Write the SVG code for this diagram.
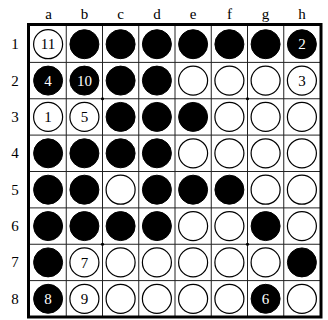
<svg xmlns="http://www.w3.org/2000/svg" width="328" height="320" viewBox="0 0 328 320">
<style>
.lbl{font-family:"Liberation Serif","Times New Roman",serif;font-size:15px;fill:#000;text-anchor:middle}
.num{font-family:"Liberation Serif","Times New Roman",serif;font-size:15px;text-anchor:middle}
.b{fill:#000;stroke:#000;stroke-width:1}
.w{fill:#fff;stroke:#000;stroke-width:1.2}
.bt{fill:#fff}
.wt{fill:#000}
.grid line{stroke:#222;stroke-width:1}
</style>
<rect width="328" height="320" fill="#fff"/>
<g id="labels">
<text class="lbl" x="48.6" y="18.5">a</text>
<text class="lbl" x="84.4" y="18.5">b</text>
<text class="lbl" x="120.6" y="18.5">c</text>
<text class="lbl" x="156.9" y="18.5">d</text>
<text class="lbl" x="193.1" y="18.5">e</text>
<text class="lbl" x="229.4" y="18.5">f</text>
<text class="lbl" x="265.6" y="18.5">g</text>
<text class="lbl" x="301.9" y="18.5">h</text>
<text class="lbl" x="15" y="49.2">1</text>
<text class="lbl" x="15" y="85.6">2</text>
<text class="lbl" x="15" y="122">3</text>
<text class="lbl" x="15" y="158.3">4</text>
<text class="lbl" x="15" y="194.7">5</text>
<text class="lbl" x="15" y="231.1">6</text>
<text class="lbl" x="15" y="267.4">7</text>
<text class="lbl" x="15" y="303.8">8</text>
</g>
<g id="board" class="grid">
<line x1="66.25" y1="24.5" x2="66.25" y2="317"/>
<line x1="102.5" y1="24.5" x2="102.5" y2="317"/>
<line x1="138.75" y1="24.5" x2="138.75" y2="317"/>
<line x1="175" y1="24.5" x2="175" y2="317"/>
<line x1="211.25" y1="24.5" x2="211.25" y2="317"/>
<line x1="247.5" y1="24.5" x2="247.5" y2="317"/>
<line x1="283.75" y1="24.5" x2="283.75" y2="317"/>
<line x1="28.5" y1="62.4" x2="321" y2="62.4"/>
<line x1="28.5" y1="98.75" x2="321" y2="98.75"/>
<line x1="28.5" y1="135.1" x2="321" y2="135.1"/>
<line x1="28.5" y1="171.5" x2="321" y2="171.5"/>
<line x1="28.5" y1="207.9" x2="321" y2="207.9"/>
<line x1="28.5" y1="244.25" x2="321" y2="244.25"/>
<line x1="28.5" y1="280.6" x2="321" y2="280.6"/>
<rect x="28.5" y="24.5" width="292.5" height="292.5" fill="none" stroke="#000" stroke-width="3"/>
<circle cx="102.5" cy="98.75" r="1.6" fill="#000"/>
<circle cx="247.5" cy="98.75" r="1.6" fill="#000"/>
<circle cx="102.5" cy="244.25" r="1.6" fill="#000"/>
<circle cx="247.5" cy="244.25" r="1.6" fill="#000"/>
</g>
<g id="discs">
<g id="a1"><circle class="w" cx="48.1" cy="44.2" r="14.5"/><text class="num wt" x="48.1" y="49.3">11</text></g>
<g id="b1"><circle class="b" cx="84.4" cy="44.2" r="14.5"/></g>
<g id="c1"><circle class="b" cx="120.6" cy="44.2" r="14.5"/></g>
<g id="d1"><circle class="b" cx="156.9" cy="44.2" r="14.5"/></g>
<g id="e1"><circle class="b" cx="193.1" cy="44.2" r="14.5"/></g>
<g id="f1"><circle class="b" cx="229.4" cy="44.2" r="14.5"/></g>
<g id="g1"><circle class="b" cx="265.6" cy="44.2" r="14.5"/></g>
<g id="h1"><circle class="b" cx="301.9" cy="44.2" r="14.5"/><text class="num bt" x="301.9" y="49.3">2</text></g>

<g id="a2"><circle class="b" cx="48.1" cy="80.6" r="14.5"/><text class="num bt" x="48.1" y="85.7">4</text></g>
<g id="b2"><circle class="b" cx="84.4" cy="80.6" r="14.5"/><text class="num bt" x="84.4" y="85.7">10</text></g>
<g id="c2"><circle class="b" cx="120.6" cy="80.6" r="14.5"/></g>
<g id="d2"><circle class="b" cx="156.9" cy="80.6" r="14.5"/></g>
<g id="e2"><circle class="w" cx="193.1" cy="80.6" r="14.5"/></g>
<g id="f2"><circle class="w" cx="229.4" cy="80.6" r="14.5"/></g>
<g id="g2"><circle class="w" cx="265.6" cy="80.6" r="14.5"/></g>
<g id="h2"><circle class="w" cx="301.9" cy="80.6" r="14.5"/><text class="num wt" x="301.9" y="85.7">3</text></g>

<g id="a3"><circle class="w" cx="48.1" cy="116.9" r="14.5"/><text class="num wt" x="48.1" y="122">1</text></g>
<g id="b3"><circle class="w" cx="84.4" cy="116.9" r="14.5"/><text class="num wt" x="84.4" y="122">5</text></g>
<g id="c3"><circle class="b" cx="120.6" cy="116.9" r="14.5"/></g>
<g id="d3"><circle class="b" cx="156.9" cy="116.9" r="14.5"/></g>
<g id="e3"><circle class="b" cx="193.1" cy="116.9" r="14.5"/></g>
<g id="f3"><circle class="w" cx="229.4" cy="116.9" r="14.5"/></g>
<g id="g3"><circle class="w" cx="265.6" cy="116.9" r="14.5"/></g>
<g id="h3"><circle class="w" cx="301.9" cy="116.9" r="14.5"/></g>

<g id="a4"><circle class="b" cx="48.1" cy="153.3" r="14.5"/></g>
<g id="b4"><circle class="b" cx="84.4" cy="153.3" r="14.5"/></g>
<g id="c4"><circle class="b" cx="120.6" cy="153.3" r="14.5"/></g>
<g id="d4"><circle class="b" cx="156.9" cy="153.3" r="14.5"/></g>
<g id="e4"><circle class="w" cx="193.1" cy="153.3" r="14.5"/></g>
<g id="f4"><circle class="w" cx="229.4" cy="153.3" r="14.5"/></g>
<g id="g4"><circle class="w" cx="265.6" cy="153.3" r="14.5"/></g>
<g id="h4"><circle class="w" cx="301.9" cy="153.3" r="14.5"/></g>

<g id="a5"><circle class="b" cx="48.1" cy="189.7" r="14.5"/></g>
<g id="b5"><circle class="b" cx="84.4" cy="189.7" r="14.5"/></g>
<g id="c5"><circle class="w" cx="120.6" cy="189.7" r="14.5"/></g>
<g id="d5"><circle class="b" cx="156.9" cy="189.7" r="14.5"/></g>
<g id="e5"><circle class="b" cx="193.1" cy="189.7" r="14.5"/></g>
<g id="f5"><circle class="b" cx="229.4" cy="189.7" r="14.5"/></g>
<g id="g5"><circle class="w" cx="265.6" cy="189.7" r="14.5"/></g>
<g id="h5"><circle class="w" cx="301.9" cy="189.7" r="14.5"/></g>

<g id="a6"><circle class="b" cx="48.1" cy="226.1" r="14.5"/></g>
<g id="b6"><circle class="b" cx="84.4" cy="226.1" r="14.5"/></g>
<g id="c6"><circle class="b" cx="120.6" cy="226.1" r="14.5"/></g>
<g id="d6"><circle class="b" cx="156.9" cy="226.1" r="14.5"/></g>
<g id="e6"><circle class="w" cx="193.1" cy="226.1" r="14.5"/></g>
<g id="f6"><circle class="w" cx="229.4" cy="226.1" r="14.5"/></g>
<g id="g6"><circle class="b" cx="265.6" cy="226.1" r="14.5"/></g>
<g id="h6"><circle class="w" cx="301.9" cy="226.1" r="14.5"/></g>

<g id="a7"><circle class="b" cx="48.1" cy="262.4" r="14.5"/></g>
<g id="b7"><circle class="w" cx="84.4" cy="262.4" r="14.5"/><text class="num wt" x="84.4" y="267.5">7</text></g>
<g id="c7"><circle class="w" cx="120.6" cy="262.4" r="14.5"/></g>
<g id="d7"><circle class="w" cx="156.9" cy="262.4" r="14.5"/></g>
<g id="e7"><circle class="w" cx="193.1" cy="262.4" r="14.5"/></g>
<g id="f7"><circle class="w" cx="229.4" cy="262.4" r="14.5"/></g>
<g id="g7"><circle class="w" cx="265.6" cy="262.4" r="14.5"/></g>
<g id="h7"><circle class="b" cx="301.9" cy="262.4" r="14.5"/></g>

<g id="a8"><circle class="b" cx="48.1" cy="298.8" r="14.5"/><text class="num bt" x="48.1" y="303.9">8</text></g>
<g id="b8"><circle class="w" cx="84.4" cy="298.8" r="14.5"/><text class="num wt" x="84.4" y="303.9">9</text></g>
<g id="c8"><circle class="w" cx="120.6" cy="298.8" r="14.5"/></g>
<g id="d8"><circle class="w" cx="156.9" cy="298.8" r="14.5"/></g>
<g id="e8"><circle class="w" cx="193.1" cy="298.8" r="14.5"/></g>
<g id="f8"><circle class="w" cx="229.4" cy="298.8" r="14.5"/></g>
<g id="g8"><circle class="b" cx="265.6" cy="298.8" r="14.5"/><text class="num bt" x="265.6" y="303.9">6</text></g>
<g id="h8"><circle class="w" cx="301.9" cy="298.8" r="14.5"/></g>
</g>
</svg>
